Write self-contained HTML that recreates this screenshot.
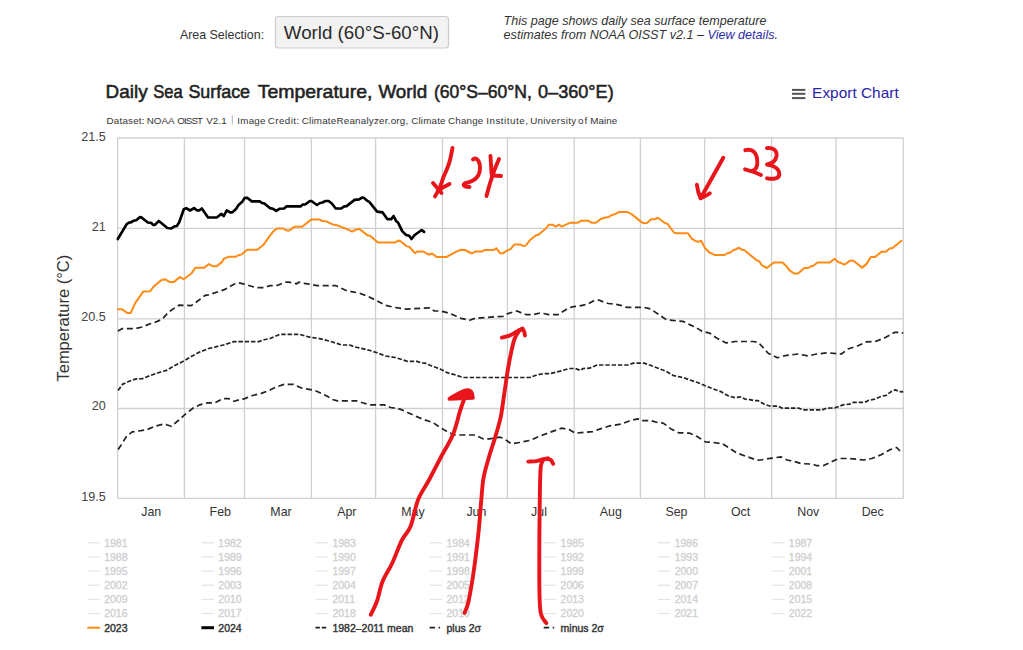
<!DOCTYPE html>
<html><head><meta charset="utf-8"><style>
html,body{margin:0;padding:0;background:#fff;}
body{width:1023px;height:650px;overflow:hidden;position:relative;font-family:"Liberation Sans", sans-serif;}
svg text{font-family:"Liberation Sans", sans-serif;}
</style></head><body>
<svg width="1023" height="650" viewBox="0 0 1023 650" style="position:absolute;left:0;top:0"><line x1="117.6" y1="138.0" x2="117.6" y2="498.4" stroke="#d0d0d0" stroke-width="1.3"/><line x1="184.4" y1="138.0" x2="184.4" y2="498.4" stroke="#d0d0d0" stroke-width="1.3"/><line x1="244.5" y1="138.0" x2="244.5" y2="498.4" stroke="#d0d0d0" stroke-width="1.3"/><line x1="311.4" y1="138.0" x2="311.4" y2="498.4" stroke="#d0d0d0" stroke-width="1.3"/><line x1="375.6" y1="138.0" x2="375.6" y2="498.4" stroke="#d0d0d0" stroke-width="1.3"/><line x1="442.5" y1="138.0" x2="442.5" y2="498.4" stroke="#d0d0d0" stroke-width="1.3"/><line x1="507.4" y1="138.0" x2="507.4" y2="498.4" stroke="#d0d0d0" stroke-width="1.3"/><line x1="574.2" y1="138.0" x2="574.2" y2="498.4" stroke="#d0d0d0" stroke-width="1.3"/><line x1="640.4" y1="138.0" x2="640.4" y2="498.4" stroke="#d0d0d0" stroke-width="1.3"/><line x1="704.6" y1="138.0" x2="704.6" y2="498.4" stroke="#d0d0d0" stroke-width="1.3"/><line x1="771.6" y1="138.0" x2="771.6" y2="498.4" stroke="#d0d0d0" stroke-width="1.3"/><line x1="836.0" y1="138.0" x2="836.0" y2="498.4" stroke="#d0d0d0" stroke-width="1.3"/><line x1="903.3" y1="138.0" x2="903.3" y2="498.4" stroke="#d0d0d0" stroke-width="1.3"/><line x1="117.6" y1="138.0" x2="903.3" y2="138.0" stroke="#d0d0d0" stroke-width="1.3"/><line x1="117.6" y1="228.4" x2="903.3" y2="228.4" stroke="#d0d0d0" stroke-width="1.3"/><line x1="117.6" y1="318.8" x2="903.3" y2="318.8" stroke="#d0d0d0" stroke-width="1.3"/><line x1="117.6" y1="408.5" x2="903.3" y2="408.5" stroke="#d0d0d0" stroke-width="1.3"/><line x1="117.6" y1="498.4" x2="903.3" y2="498.4" stroke="#d0d0d0" stroke-width="1.3"/><text x="105.7" y="140.6" text-anchor="end" font-size="12.6" fill="#444">21.5</text><text x="105.7" y="230.6" text-anchor="end" font-size="12.6" fill="#444">21</text><text x="105.7" y="320.8" text-anchor="end" font-size="12.6" fill="#444">20.5</text><text x="105.7" y="410.0" text-anchor="end" font-size="12.6" fill="#444">20</text><text x="105.7" y="501.4" text-anchor="end" font-size="12.6" fill="#444">19.5</text><text x="151.2" y="515.8" text-anchor="middle" font-size="12.4" fill="#333">Jan</text><text x="220.3" y="515.8" text-anchor="middle" font-size="12.4" fill="#333">Feb</text><text x="281.0" y="515.8" text-anchor="middle" font-size="12.4" fill="#333">Mar</text><text x="346.8" y="515.8" text-anchor="middle" font-size="12.4" fill="#333">Apr</text><text x="413.0" y="515.8" text-anchor="middle" font-size="12.4" fill="#333">May</text><text x="476.4" y="515.8" text-anchor="middle" font-size="12.4" fill="#333">Jun</text><text x="539.0" y="515.8" text-anchor="middle" font-size="12.4" fill="#333">Jul</text><text x="610.8" y="515.8" text-anchor="middle" font-size="12.4" fill="#333">Aug</text><text x="676.5" y="515.8" text-anchor="middle" font-size="12.4" fill="#333">Sep</text><text x="740.6" y="515.8" text-anchor="middle" font-size="12.4" fill="#333">Oct</text><text x="808.3" y="515.8" text-anchor="middle" font-size="12.4" fill="#333">Nov</text><text x="872.7" y="515.8" text-anchor="middle" font-size="12.4" fill="#333">Dec</text><text transform="translate(69,318.2) rotate(-90)" text-anchor="middle" font-size="16" fill="#333" textLength="126.7" lengthAdjust="spacingAndGlyphs">Temperature (°C)</text><path d="M118.1,449.4 L121.3,444.7 L126.7,436.1 L132.2,431.9 L138.5,431.0 L146.3,429.9 L154.9,426.3 L163.5,424.1 L166.6,424.7 L171.3,426.3 L180.7,418.5 L185.4,414.2 L193.2,408.0 L199.5,404.9 L207.3,402.8 L215.1,402.8 L222.9,398.6 L228.4,398.6 L233.9,401.3 L239.3,399.7 L244.8,398.6 L252.6,395.5 L262.0,393.1 L270.0,390.1 L276.3,386.9 L284.1,384.4 L293.5,384.4 L301.3,388.0 L313.8,390.1 L320.0,392.7 L327.3,396.3 L332.0,399.4 L337.5,400.9 L356.3,400.9 L362.5,402.8 L370.4,404.9 L384.4,404.9 L390.7,407.5 L400.1,409.1 L412.6,414.7 L422.0,418.9 L432.9,422.5 L439.2,426.8 L448.6,432.5 L454.8,435.0 L475.1,435.0 L483.0,438.8 L489.4,438.8 L500.3,437.2 L503.5,438.3 L511.3,443.8 L519.1,442.5 L530.0,440.4 L539.4,436.3 L548.8,432.8 L561.3,428.2 L569.1,429.4 L575.4,433.2 L592.6,431.6 L600.4,428.9 L609.8,425.8 L620.8,424.2 L630.1,420.6 L638.1,418.8 L641.3,420.6 L650.6,420.6 L658.5,422.7 L663.2,423.1 L671.0,428.9 L678.8,432.8 L689.7,433.2 L697.6,436.8 L705.4,441.9 L711.6,442.2 L722.6,443.8 L728.8,447.7 L736.7,452.9 L746.0,456.3 L757.0,460.2 L760.6,460.0 L771.6,458.2 L781.0,456.9 L787.2,460.0 L796.6,462.1 L801.3,463.6 L812.3,464.1 L816.9,465.7 L823.2,465.7 L832.6,461.3 L838.8,458.5 L849.8,458.5 L863.9,460.0 L871.7,458.5 L881.1,454.7 L890.5,449.5 L896.7,447.5 L900.6,451.6" fill="none" stroke="#222" stroke-width="1.7" stroke-dasharray="6 3.6" stroke-linejoin="round"/><path d="M118.1,390.4 L122.8,384.1 L129.1,381.3 L135.3,379.1 L142.4,378.6 L152.5,374.7 L161.9,371.6 L166.6,370.4 L174.4,365.7 L183.8,361.0 L191.6,356.3 L199.5,352.1 L208.8,348.5 L216.7,346.6 L224.5,344.7 L233.9,341.6 L258.9,341.6 L265.1,339.5 L270.0,338.5 L279.4,334.4 L299.7,334.4 L310.7,337.5 L316.9,338.0 L323.2,339.5 L329.4,341.1 L335.7,343.1 L341.9,345.0 L349.8,345.0 L354.5,346.9 L363.8,348.9 L370.1,350.5 L376.3,352.5 L385.7,356.0 L395.1,357.5 L402.9,359.9 L407.6,361.4 L417.0,361.4 L421.7,363.0 L425.0,363.1 L431.3,365.8 L439.9,368.9 L448.5,373.2 L454.7,374.7 L463.3,377.5 L529.8,377.5 L537.6,374.7 L543.9,373.6 L550.1,373.6 L556.4,372.1 L562.6,370.5 L568.9,368.5 L575.1,368.5 L580.6,370.5 L583.1,368.5 L589.4,368.2 L597.2,365.0 L628.5,365.0 L633.2,363.1 L644.1,363.1 L650.4,365.3 L659.8,368.9 L666.0,371.3 L673.8,375.7 L683.2,377.5 L689.5,379.9 L698.9,383.0 L705.1,385.7 L712.9,388.8 L720.8,391.6 L728.6,396.0 L734.8,397.6 L740.8,396.9 L745.0,399.1 L750.0,399.6 L754.1,400.7 L758.3,400.7 L764.9,404.6 L770.7,406.2 L778.2,406.2 L782.4,408.2 L799.0,408.2 L803.1,409.9 L822.2,409.9 L826.4,408.2 L834.7,407.9 L843.0,404.9 L849.7,404.1 L853.0,402.4 L864.6,402.4 L867.9,400.7 L874.6,399.1 L881.2,396.3 L886.2,395.3 L891.2,391.6 L895.4,389.9 L899.5,391.6 L903.2,391.9" fill="none" stroke="#222" stroke-width="1.7" stroke-dasharray="4.4 1.9" stroke-linejoin="round"/><path d="M117.9,331.1 L122.0,328.7 L134.9,328.7 L142.0,327.0 L150.2,323.8 L153.7,322.8 L160.7,319.9 L163.1,318.2 L169.0,311.7 L178.9,305.2 L191.2,305.6 L197.1,301.5 L205.3,295.3 L208.8,294.8 L218.2,291.7 L224.5,289.6 L233.9,284.2 L238.6,282.9 L243.2,283.8 L249.5,285.7 L255.8,287.6 L263.6,287.6 L269.8,285.7 L277.8,285.3 L284.9,282.2 L288.8,282.2 L296.6,283.8 L298.9,282.2 L304.4,283.3 L309.1,284.1 L316.9,285.6 L335.7,285.6 L339.6,287.5 L347.4,291.1 L351.3,291.6 L359.1,293.1 L368.5,296.6 L376.3,300.5 L385.0,305.2 L395.1,307.5 L406.1,309.1 L410.8,308.8 L429.7,307.8 L434.4,311.0 L440.6,311.0 L445.3,312.1 L450.0,313.6 L456.3,316.3 L461.0,318.3 L469.6,320.3 L475.0,318.3 L503.2,316.3 L507.9,313.6 L512.6,312.1 L517.3,311.0 L522.0,313.2 L526.7,314.7 L532.9,314.7 L540.7,312.8 L548.6,314.7 L557.9,314.7 L568.9,307.8 L573.6,306.6 L580.0,305.8 L587.8,304.2 L593.3,301.1 L598.8,300.0 L602.7,301.6 L608.2,303.5 L612.8,303.8 L620.7,305.3 L626.9,307.4 L644.1,307.4 L650.4,308.9 L659.8,315.2 L666.8,319.9 L683.2,321.4 L689.5,324.6 L695.0,326.9 L702.0,331.3 L709.8,333.2 L717.6,338.6 L726.2,342.9 L735.0,341.5 L753.3,341.5 L758.3,342.4 L768.2,353.2 L777.4,357.8 L784.9,355.7 L798.1,354.0 L808.1,356.0 L816.4,354.0 L828.1,352.8 L841.3,354.0 L848.0,349.0 L858.0,345.7 L866.3,341.9 L876.2,341.2 L884.6,337.9 L894.5,332.4 L898.7,332.4 L903.2,333.2" fill="none" stroke="#222" stroke-width="1.7" stroke-dasharray="6 3.6" stroke-linejoin="round"/><path d="M118.1,309.2 L122.0,309.2 L127.5,313.1 L130.6,313.1 L135.3,302.9 L143.2,291.6 L150.2,291.2 L153.3,287.0 L161.1,280.2 L165.0,279.2 L169.7,282.1 L173.6,282.1 L179.9,277.1 L183.8,279.2 L191.6,273.2 L195.5,267.7 L204.1,267.7 L208.8,264.1 L212.7,266.2 L216.7,266.2 L222.1,261.9 L223.7,258.8 L228.4,256.8 L235.4,256.8 L238.6,255.2 L241.7,254.4 L247.2,249.7 L257.3,249.7 L263.6,244.7 L269.1,236.9 L273.1,231.6 L277.0,228.5 L283.3,228.5 L286.4,230.4 L289.5,230.4 L294.2,226.8 L302.1,226.8 L311.4,219.4 L319.3,219.4 L322.4,221.0 L326.3,221.3 L332.6,224.4 L337.3,225.3 L341.9,227.2 L348.2,229.6 L352.1,231.6 L355.2,230.0 L359.1,228.8 L367.7,235.4 L370.1,235.8 L377.9,242.6 L395.1,242.6 L398.2,240.5 L400.6,241.3 L404.5,244.4 L406.3,246.1 L409.4,246.9 L414.9,253.2 L417.2,251.6 L423.5,251.6 L426.6,253.5 L429.7,254.7 L432.1,253.5 L436.8,257.1 L446.1,257.1 L450.8,254.7 L456.3,251.6 L461.0,249.7 L464.9,250.0 L471.9,253.5 L475.1,251.6 L482.1,251.6 L484.5,250.0 L493.8,250.0 L496.2,248.2 L500.1,253.2 L503.2,253.2 L507.9,250.0 L510.3,249.3 L514.2,244.6 L520.4,244.6 L523.6,246.1 L525.9,245.4 L529.8,240.3 L536.1,235.2 L538.4,234.7 L546.2,228.2 L548.6,224.7 L552.5,224.7 L555.6,226.6 L558.9,224.7 L562.0,226.6 L565.9,224.7 L569.9,222.8 L577.7,222.8 L580.8,220.8 L588.6,220.8 L591.8,222.8 L595.7,222.8 L600.4,219.2 L604.3,217.7 L609.0,216.9 L611.3,215.3 L615.2,214.1 L619.1,211.9 L626.9,211.9 L631.6,214.1 L641.8,222.4 L644.1,223.2 L647.3,222.8 L651.2,219.2 L655.1,219.2 L657.9,217.7 L664.5,222.8 L667.6,223.9 L673.9,232.5 L676.2,233.3 L688.0,233.3 L691.9,238.8 L695.0,240.7 L698.1,241.9 L701.2,240.7 L705.1,248.2 L709.7,252.8 L712.0,253.5 L714.4,255.0 L724.5,255.0 L727.7,253.2 L730.0,252.8 L733.9,249.7 L735.5,249.7 L738.6,247.7 L741.8,249.7 L744.1,250.0 L756.6,260.2 L759.0,261.0 L762.1,265.4 L766.8,268.0 L773.8,262.5 L782.4,262.5 L786.3,266.0 L789.5,270.4 L794.1,273.5 L798.1,273.5 L804.3,268.0 L808.2,268.0 L811.4,266.0 L812.9,266.0 L817.6,262.5 L829.8,262.5 L834.5,258.8 L838.5,262.2 L840.6,262.8 L843.8,264.4 L845.5,264.1 L849.8,260.7 L853.5,260.7 L862.1,267.6 L866.4,264.1 L870.8,257.1 L875.1,257.1 L881.5,251.8 L885.8,251.8 L890.1,248.2 L892.3,248.2 L901.4,240.7" fill="none" stroke="#ff8a14" stroke-width="2" stroke-linejoin="round" stroke-linecap="round"/><path d="M117.8,239.0 L126.7,224.1 L129.1,222.5 L130.6,222.5 L133.8,220.7 L136.1,220.2 L140.0,217.1 L141.6,217.4 L147.8,222.5 L151.0,222.8 L153.3,224.9 L154.9,224.9 L158.8,221.0 L167.4,228.0 L171.3,228.5 L174.4,226.4 L176.8,226.0 L179.1,222.5 L183.8,209.2 L186.2,208.1 L190.1,210.5 L194.0,208.1 L197.1,210.3 L199.5,210.3 L201.8,208.5 L208.1,217.5 L216.7,217.5 L221.4,213.9 L223.7,216.0 L226.8,210.3 L230.0,212.4 L232.3,212.4 L236.2,208.8 L238.6,204.9 L242.5,201.4 L244.8,197.8 L247.2,197.8 L251.8,201.4 L259.7,201.4 L262.0,203.0 L264.4,203.5 L269.8,208.1 L273.1,208.8 L276.3,210.8 L279.4,208.8 L284.1,208.5 L286.4,206.4 L300.5,206.4 L302.8,204.5 L305.2,204.5 L309.9,201.0 L311.4,201.0 L316.9,205.0 L320.0,203.0 L322.4,202.5 L325.5,201.0 L328.6,201.0 L331.8,203.5 L335.7,208.5 L341.2,208.5 L344.3,206.4 L346.6,206.1 L354.5,199.9 L359.1,199.4 L362.3,197.5 L363.8,197.8 L367.0,200.6 L369.3,201.9 L377.1,211.6 L382.6,212.4 L387.3,219.1 L391.2,219.1 L393.6,216.0 L395.9,220.7 L398.2,222.8 L402.2,231.1 L406.1,235.0 L409.2,235.8 L411.5,239.0 L414.7,235.0 L421.7,230.0 L424.1,231.9" fill="none" stroke="#000" stroke-width="2.65" stroke-linejoin="round" stroke-linecap="round"/><line x1="87.3" y1="542.8" x2="99.9" y2="542.8" stroke="#e4e4e4" stroke-width="1.2"/><text x="104.2" y="546.6" font-size="10.5" fill="#d0d0d0" stroke="#d0d0d0" stroke-width="0.35">1981</text><line x1="87.3" y1="556.9" x2="99.9" y2="556.9" stroke="#e4e4e4" stroke-width="1.2"/><text x="104.2" y="560.7" font-size="10.5" fill="#d0d0d0" stroke="#d0d0d0" stroke-width="0.35">1988</text><line x1="87.3" y1="571.1" x2="99.9" y2="571.1" stroke="#e4e4e4" stroke-width="1.2"/><text x="104.2" y="574.9" font-size="10.5" fill="#d0d0d0" stroke="#d0d0d0" stroke-width="0.35">1995</text><line x1="87.3" y1="585.2" x2="99.9" y2="585.2" stroke="#e4e4e4" stroke-width="1.2"/><text x="104.2" y="589.0" font-size="10.5" fill="#d0d0d0" stroke="#d0d0d0" stroke-width="0.35">2002</text><line x1="87.3" y1="599.4" x2="99.9" y2="599.4" stroke="#e4e4e4" stroke-width="1.2"/><text x="104.2" y="603.2" font-size="10.5" fill="#d0d0d0" stroke="#d0d0d0" stroke-width="0.35">2009</text><line x1="87.3" y1="613.5" x2="99.9" y2="613.5" stroke="#e4e4e4" stroke-width="1.2"/><text x="104.2" y="617.3" font-size="10.5" fill="#d0d0d0" stroke="#d0d0d0" stroke-width="0.35">2016</text><line x1="201.4" y1="542.8" x2="214.0" y2="542.8" stroke="#e4e4e4" stroke-width="1.2"/><text x="218.3" y="546.6" font-size="10.5" fill="#d0d0d0" stroke="#d0d0d0" stroke-width="0.35">1982</text><line x1="201.4" y1="556.9" x2="214.0" y2="556.9" stroke="#e4e4e4" stroke-width="1.2"/><text x="218.3" y="560.7" font-size="10.5" fill="#d0d0d0" stroke="#d0d0d0" stroke-width="0.35">1989</text><line x1="201.4" y1="571.1" x2="214.0" y2="571.1" stroke="#e4e4e4" stroke-width="1.2"/><text x="218.3" y="574.9" font-size="10.5" fill="#d0d0d0" stroke="#d0d0d0" stroke-width="0.35">1996</text><line x1="201.4" y1="585.2" x2="214.0" y2="585.2" stroke="#e4e4e4" stroke-width="1.2"/><text x="218.3" y="589.0" font-size="10.5" fill="#d0d0d0" stroke="#d0d0d0" stroke-width="0.35">2003</text><line x1="201.4" y1="599.4" x2="214.0" y2="599.4" stroke="#e4e4e4" stroke-width="1.2"/><text x="218.3" y="603.2" font-size="10.5" fill="#d0d0d0" stroke="#d0d0d0" stroke-width="0.35">2010</text><line x1="201.4" y1="613.5" x2="214.0" y2="613.5" stroke="#e4e4e4" stroke-width="1.2"/><text x="218.3" y="617.3" font-size="10.5" fill="#d0d0d0" stroke="#d0d0d0" stroke-width="0.35">2017</text><line x1="315.5" y1="542.8" x2="328.1" y2="542.8" stroke="#e4e4e4" stroke-width="1.2"/><text x="332.4" y="546.6" font-size="10.5" fill="#d0d0d0" stroke="#d0d0d0" stroke-width="0.35">1983</text><line x1="315.5" y1="556.9" x2="328.1" y2="556.9" stroke="#e4e4e4" stroke-width="1.2"/><text x="332.4" y="560.7" font-size="10.5" fill="#d0d0d0" stroke="#d0d0d0" stroke-width="0.35">1990</text><line x1="315.5" y1="571.1" x2="328.1" y2="571.1" stroke="#e4e4e4" stroke-width="1.2"/><text x="332.4" y="574.9" font-size="10.5" fill="#d0d0d0" stroke="#d0d0d0" stroke-width="0.35">1997</text><line x1="315.5" y1="585.2" x2="328.1" y2="585.2" stroke="#e4e4e4" stroke-width="1.2"/><text x="332.4" y="589.0" font-size="10.5" fill="#d0d0d0" stroke="#d0d0d0" stroke-width="0.35">2004</text><line x1="315.5" y1="599.4" x2="328.1" y2="599.4" stroke="#e4e4e4" stroke-width="1.2"/><text x="332.4" y="603.2" font-size="10.5" fill="#d0d0d0" stroke="#d0d0d0" stroke-width="0.35">2011</text><line x1="315.5" y1="613.5" x2="328.1" y2="613.5" stroke="#e4e4e4" stroke-width="1.2"/><text x="332.4" y="617.3" font-size="10.5" fill="#d0d0d0" stroke="#d0d0d0" stroke-width="0.35">2018</text><line x1="429.6" y1="542.8" x2="442.2" y2="542.8" stroke="#e4e4e4" stroke-width="1.2"/><text x="446.5" y="546.6" font-size="10.5" fill="#d0d0d0" stroke="#d0d0d0" stroke-width="0.35">1984</text><line x1="429.6" y1="556.9" x2="442.2" y2="556.9" stroke="#e4e4e4" stroke-width="1.2"/><text x="446.5" y="560.7" font-size="10.5" fill="#d0d0d0" stroke="#d0d0d0" stroke-width="0.35">1991</text><line x1="429.6" y1="571.1" x2="442.2" y2="571.1" stroke="#e4e4e4" stroke-width="1.2"/><text x="446.5" y="574.9" font-size="10.5" fill="#d0d0d0" stroke="#d0d0d0" stroke-width="0.35">1998</text><line x1="429.6" y1="585.2" x2="442.2" y2="585.2" stroke="#e4e4e4" stroke-width="1.2"/><text x="446.5" y="589.0" font-size="10.5" fill="#d0d0d0" stroke="#d0d0d0" stroke-width="0.35">2005</text><line x1="429.6" y1="599.4" x2="442.2" y2="599.4" stroke="#e4e4e4" stroke-width="1.2"/><text x="446.5" y="603.2" font-size="10.5" fill="#d0d0d0" stroke="#d0d0d0" stroke-width="0.35">2012</text><line x1="429.6" y1="613.5" x2="442.2" y2="613.5" stroke="#e4e4e4" stroke-width="1.2"/><text x="446.5" y="617.3" font-size="10.5" fill="#d0d0d0" stroke="#d0d0d0" stroke-width="0.35">2019</text><line x1="543.7" y1="542.8" x2="556.3" y2="542.8" stroke="#e4e4e4" stroke-width="1.2"/><text x="560.6" y="546.6" font-size="10.5" fill="#d0d0d0" stroke="#d0d0d0" stroke-width="0.35">1985</text><line x1="543.7" y1="556.9" x2="556.3" y2="556.9" stroke="#e4e4e4" stroke-width="1.2"/><text x="560.6" y="560.7" font-size="10.5" fill="#d0d0d0" stroke="#d0d0d0" stroke-width="0.35">1992</text><line x1="543.7" y1="571.1" x2="556.3" y2="571.1" stroke="#e4e4e4" stroke-width="1.2"/><text x="560.6" y="574.9" font-size="10.5" fill="#d0d0d0" stroke="#d0d0d0" stroke-width="0.35">1999</text><line x1="543.7" y1="585.2" x2="556.3" y2="585.2" stroke="#e4e4e4" stroke-width="1.2"/><text x="560.6" y="589.0" font-size="10.5" fill="#d0d0d0" stroke="#d0d0d0" stroke-width="0.35">2006</text><line x1="543.7" y1="599.4" x2="556.3" y2="599.4" stroke="#e4e4e4" stroke-width="1.2"/><text x="560.6" y="603.2" font-size="10.5" fill="#d0d0d0" stroke="#d0d0d0" stroke-width="0.35">2013</text><line x1="543.7" y1="613.5" x2="556.3" y2="613.5" stroke="#e4e4e4" stroke-width="1.2"/><text x="560.6" y="617.3" font-size="10.5" fill="#d0d0d0" stroke="#d0d0d0" stroke-width="0.35">2020</text><line x1="657.8" y1="542.8" x2="670.4" y2="542.8" stroke="#e4e4e4" stroke-width="1.2"/><text x="674.7" y="546.6" font-size="10.5" fill="#d0d0d0" stroke="#d0d0d0" stroke-width="0.35">1986</text><line x1="657.8" y1="556.9" x2="670.4" y2="556.9" stroke="#e4e4e4" stroke-width="1.2"/><text x="674.7" y="560.7" font-size="10.5" fill="#d0d0d0" stroke="#d0d0d0" stroke-width="0.35">1993</text><line x1="657.8" y1="571.1" x2="670.4" y2="571.1" stroke="#e4e4e4" stroke-width="1.2"/><text x="674.7" y="574.9" font-size="10.5" fill="#d0d0d0" stroke="#d0d0d0" stroke-width="0.35">2000</text><line x1="657.8" y1="585.2" x2="670.4" y2="585.2" stroke="#e4e4e4" stroke-width="1.2"/><text x="674.7" y="589.0" font-size="10.5" fill="#d0d0d0" stroke="#d0d0d0" stroke-width="0.35">2007</text><line x1="657.8" y1="599.4" x2="670.4" y2="599.4" stroke="#e4e4e4" stroke-width="1.2"/><text x="674.7" y="603.2" font-size="10.5" fill="#d0d0d0" stroke="#d0d0d0" stroke-width="0.35">2014</text><line x1="657.8" y1="613.5" x2="670.4" y2="613.5" stroke="#e4e4e4" stroke-width="1.2"/><text x="674.7" y="617.3" font-size="10.5" fill="#d0d0d0" stroke="#d0d0d0" stroke-width="0.35">2021</text><line x1="771.9" y1="542.8" x2="784.5" y2="542.8" stroke="#e4e4e4" stroke-width="1.2"/><text x="788.8" y="546.6" font-size="10.5" fill="#d0d0d0" stroke="#d0d0d0" stroke-width="0.35">1987</text><line x1="771.9" y1="556.9" x2="784.5" y2="556.9" stroke="#e4e4e4" stroke-width="1.2"/><text x="788.8" y="560.7" font-size="10.5" fill="#d0d0d0" stroke="#d0d0d0" stroke-width="0.35">1994</text><line x1="771.9" y1="571.1" x2="784.5" y2="571.1" stroke="#e4e4e4" stroke-width="1.2"/><text x="788.8" y="574.9" font-size="10.5" fill="#d0d0d0" stroke="#d0d0d0" stroke-width="0.35">2001</text><line x1="771.9" y1="585.2" x2="784.5" y2="585.2" stroke="#e4e4e4" stroke-width="1.2"/><text x="788.8" y="589.0" font-size="10.5" fill="#d0d0d0" stroke="#d0d0d0" stroke-width="0.35">2008</text><line x1="771.9" y1="599.4" x2="784.5" y2="599.4" stroke="#e4e4e4" stroke-width="1.2"/><text x="788.8" y="603.2" font-size="10.5" fill="#d0d0d0" stroke="#d0d0d0" stroke-width="0.35">2015</text><line x1="771.9" y1="613.5" x2="784.5" y2="613.5" stroke="#e4e4e4" stroke-width="1.2"/><text x="788.8" y="617.3" font-size="10.5" fill="#d0d0d0" stroke="#d0d0d0" stroke-width="0.35">2022</text><line x1="87.3" y1="627.7" x2="99.9" y2="627.7" stroke="#ff8a14" stroke-width="2"/><text x="104.2" y="631.5" font-size="10.5" fill="#333" stroke="#333" stroke-width="0.4">2023</text><line x1="201.4" y1="627.7" x2="214.0" y2="627.7" stroke="#000" stroke-width="3"/><text x="218.3" y="631.5" font-size="10.5" fill="#333" stroke="#333" stroke-width="0.4">2024</text><line x1="315.5" y1="627.7" x2="328.1" y2="627.7" stroke="#222" stroke-width="1.7" stroke-dasharray="4.4 1.9"/><text x="332.4" y="631.5" font-size="10.5" fill="#333" stroke="#333" stroke-width="0.4">1982–2011 mean</text><line x1="429.6" y1="627.7" x2="442.2" y2="627.7" stroke="#222" stroke-width="1.7" stroke-dasharray="5.5 3.5 1.5 3"/><text x="446.5" y="631.5" font-size="10.5" fill="#333" stroke="#333" stroke-width="0.4">plus 2σ</text><line x1="543.7" y1="627.7" x2="556.3" y2="627.7" stroke="#222" stroke-width="1.7" stroke-dasharray="5.5 3.5 1.5 3"/><text x="560.6" y="631.5" font-size="10.5" fill="#333" stroke="#333" stroke-width="0.4">minus 2σ</text><path d="M449.5,398.8 C454,396 460,392 466,390.3 C470.5,389.5 472.5,392 472.8,397.8 Z" fill="#e8151b" stroke="#e8151b" stroke-width="3.9" stroke-linejoin="round"/><path d="M452.5,148.0 C452.1,150.0 450.9,156.5 450.0,160.0 C449.1,163.5 448.1,166.2 447.0,169.0 C445.9,171.8 444.7,174.0 443.5,177.0 C442.3,180.0 441.4,183.8 440.0,187.0 C438.6,190.2 435.8,194.9 435.0,196.5" fill="none" stroke="#e8151b" stroke-width="3.9" stroke-linecap="round" stroke-linejoin="round"/><path d="M433,183 L441.5,193" fill="none" stroke="#e8151b" stroke-width="3.9" stroke-linecap="round" stroke-linejoin="round"/><path d="M449.5,184 L440,189" fill="none" stroke="#e8151b" stroke-width="3.9" stroke-linecap="round" stroke-linejoin="round"/><path d="M473,159.5 C476,157 480,160 480,168 C480,176 475,181 466,183 C462,184 463,187 469.5,187" fill="none" stroke="#e8151b" stroke-width="3.9" stroke-linecap="round" stroke-linejoin="round"/><path d="M490.5,156 L491.5,173.5" fill="none" stroke="#e8151b" stroke-width="3.9" stroke-linecap="round" stroke-linejoin="round"/><path d="M499,159 C494,170 490,182 486.5,196" fill="none" stroke="#e8151b" stroke-width="3.9" stroke-linecap="round" stroke-linejoin="round"/><path d="M492,175.5 L501,176" fill="none" stroke="#e8151b" stroke-width="3.9" stroke-linecap="round" stroke-linejoin="round"/><path d="M723.3,157.8 L700.6,198.2" fill="none" stroke="#e8151b" stroke-width="3.9" stroke-linecap="round" stroke-linejoin="round"/><path d="M696.9,184.7 C697.5,190 699,195 700.6,198.2 C704,197 707,195 709.8,193.3" fill="none" stroke="#e8151b" stroke-width="3.9" stroke-linecap="round" stroke-linejoin="round"/><path d="M745.3,150.2 C752,148.5 756.5,152 757.2,160 C757.8,166 756,170 752,171" fill="none" stroke="#e8151b" stroke-width="3.9" stroke-linecap="round" stroke-linejoin="round"/><path d="M745,169.3 C750,170.5 756,172.5 761,175" fill="none" stroke="#e8151b" stroke-width="3.9" stroke-linecap="round" stroke-linejoin="round"/><path d="M766.9,148.1 C773,147.5 777,150 776.6,155.5 C776,161 772,163.5 767,164.5 C774,165.5 779.5,169 779.3,174.5 C779,178.5 774,179.5 767,178.3" fill="none" stroke="#e8151b" stroke-width="3.9" stroke-linecap="round" stroke-linejoin="round"/><path d="M370.8,614.7 C371.8,612.4 375.0,606.6 377.0,601.0 C379.0,595.4 380.1,587.6 382.6,581.3 C385.2,575.0 389.1,569.9 392.3,563.0 C395.5,556.1 398.9,546.1 402.0,540.0 C405.1,533.9 407.9,533.1 410.6,526.3 C413.3,519.5 415.1,507.1 418.2,499.4 C421.3,491.7 425.4,486.8 429.0,480.0 C432.6,473.2 436.0,466.4 440.0,458.8 C444.0,451.2 449.8,442.1 453.1,434.2 C456.4,426.3 457.9,417.9 460.0,411.2 C462.1,404.5 465.0,396.9 466.0,394.0" fill="none" stroke="#e8151b" stroke-width="3.9" stroke-linecap="round" stroke-linejoin="round"/><path d="M464.5,612.9 C465.1,611.3 466.9,608.1 468.1,603.3 C469.3,598.5 470.5,591.4 471.7,584.3 C472.9,577.2 474.0,569.6 475.2,560.5 C476.4,551.4 477.8,539.4 478.8,529.5 C479.8,519.6 480.4,509.6 481.2,501.0 C482.0,492.4 482.2,485.4 483.5,478.0 C484.8,470.6 487.3,463.0 489.2,456.3 C491.1,449.6 493.1,444.4 495.0,437.9 C496.9,431.4 499.2,424.5 500.7,417.2 C502.2,409.9 503.0,401.8 504.2,394.1 C505.4,386.4 506.5,378.0 507.6,371.1 C508.8,364.2 509.9,358.0 511.1,352.6 C512.3,347.2 513.2,342.4 514.6,338.8 C516.0,335.2 517.9,332.5 519.2,330.8 C520.5,329.1 522.0,328.9 522.6,328.5" fill="none" stroke="#e8151b" stroke-width="3.9" stroke-linecap="round" stroke-linejoin="round"/><path d="M501.9,337.7 C503.2,337.3 507.6,336.3 510.0,335.4 C512.4,334.4 514.3,333.0 516.0,332.0 C517.7,331.0 519.0,329.8 520.3,329.6 C521.6,329.4 523.0,329.8 523.8,330.8 C524.6,331.8 524.7,334.6 524.9,335.4" fill="none" stroke="#e8151b" stroke-width="3.9" stroke-linecap="round" stroke-linejoin="round"/><path d="M546.3,623.1 C545.4,621.5 541.9,619.2 540.8,613.4 C539.6,607.6 539.6,601.9 539.4,588.5 C539.2,575.1 539.3,549.2 539.4,533.1 C539.5,517.0 539.7,502.7 539.9,491.6 C540.1,480.5 540.2,471.9 540.8,466.6 C541.4,461.3 542.4,461.1 543.5,459.7 C544.6,458.3 547.0,458.5 547.7,458.3" fill="none" stroke="#e8151b" stroke-width="3.9" stroke-linecap="round" stroke-linejoin="round"/><path d="M528.3,461.6 C529.7,461.5 533.8,461.6 536.6,461.1 C539.4,460.7 542.6,459.1 544.9,458.9 C547.2,458.7 549.1,458.9 550.5,459.7 C551.9,460.5 552.8,463.2 553.2,463.9" fill="none" stroke="#e8151b" stroke-width="3.9" stroke-linecap="round" stroke-linejoin="round"/><text x="105.6" y="98.4" font-size="18.6" fill="#222" stroke="#222" stroke-width="0.55" textLength="42.0" lengthAdjust="spacingAndGlyphs">Daily</text><text x="153.3" y="98.4" font-size="18.6" fill="#222" stroke="#222" stroke-width="0.55" textLength="29.5" lengthAdjust="spacingAndGlyphs">Sea</text><text x="188.4" y="98.4" font-size="18.6" fill="#222" stroke="#222" stroke-width="0.55" textLength="61.7" lengthAdjust="spacingAndGlyphs">Surface</text><text x="257.7" y="98.4" font-size="18.6" fill="#222" stroke="#222" stroke-width="0.55" textLength="114.7" lengthAdjust="spacingAndGlyphs">Temperature,</text><text x="378.4" y="98.4" font-size="18.6" fill="#222" stroke="#222" stroke-width="0.55" textLength="48.7" lengthAdjust="spacingAndGlyphs">World</text><text x="433.9" y="98.4" font-size="18.6" fill="#222" stroke="#222" stroke-width="0.55" textLength="98.0" lengthAdjust="spacingAndGlyphs">(60°S–60°N,</text><text x="538.0" y="98.4" font-size="18.6" fill="#222" stroke="#222" stroke-width="0.55" textLength="75.7" lengthAdjust="spacingAndGlyphs">0–360°E)</text><text x="106.5" y="123.6" font-size="9.8" fill="#333" textLength="38.0" lengthAdjust="spacing">Dataset:</text><text x="146.7" y="123.6" font-size="9.8" fill="#333" textLength="27.8" lengthAdjust="spacing">NOAA</text><text x="177.2" y="123.6" font-size="9.8" fill="#333" textLength="25.9" lengthAdjust="spacing">OISST</text><text x="206.2" y="123.6" font-size="9.8" fill="#333" textLength="20.4" lengthAdjust="spacing">V2.1</text><text x="237.3" y="123.6" font-size="9.8" fill="#333" textLength="28.2" lengthAdjust="spacing">Image</text><text x="267.8" y="123.6" font-size="9.8" fill="#333" textLength="31.4" lengthAdjust="spacing">Credit:</text><text x="301.7" y="123.6" font-size="9.8" fill="#333" textLength="106.5" lengthAdjust="spacing">ClimateReanalyzer.org,</text><text x="411.2" y="123.6" font-size="9.8" fill="#333" textLength="34.3" lengthAdjust="spacing">Climate</text><text x="448.1" y="123.6" font-size="9.8" fill="#333" textLength="35.2" lengthAdjust="spacing">Change</text><text x="486.2" y="123.6" font-size="9.8" fill="#333" textLength="41.7" lengthAdjust="spacing">Institute,</text><text x="530.2" y="123.6" font-size="9.8" fill="#333" textLength="45.9" lengthAdjust="spacing">University</text><text x="578.1" y="123.6" font-size="9.8" fill="#333" textLength="9.2" lengthAdjust="spacing">of</text><text x="590.2" y="123.6" font-size="9.8" fill="#333" textLength="27.0" lengthAdjust="spacing">Maine</text><line x1="232.3" y1="115.5" x2="232.3" y2="124.5" stroke="#aaa" stroke-width="0.9"/><line x1="792" y1="89.9" x2="805.4" y2="89.9" stroke="#555" stroke-width="2"/><line x1="792" y1="93.8" x2="805.4" y2="93.8" stroke="#555" stroke-width="2"/><line x1="792" y1="98.1" x2="805.4" y2="98.1" stroke="#555" stroke-width="2"/><text x="812.1" y="98.3" font-size="14.8" fill="#2c22a8" textLength="86.6" lengthAdjust="spacingAndGlyphs">Export Chart</text><text x="179.9" y="39.3" font-size="12.9" fill="#333" textLength="84.2" lengthAdjust="spacingAndGlyphs">Area Selection:</text><rect x="275.5" y="16.5" width="173" height="31.5" rx="3" ry="3" fill="#f2f2f2" stroke="#cdcdcd" stroke-width="1.2"/><text x="283.8" y="39.1" font-size="18.3" fill="#2a2a2a" textLength="155.2" lengthAdjust="spacingAndGlyphs">World (60°S-60°N)</text><text x="503.6" y="24.8" font-size="12.6" font-style="italic" fill="#333" textLength="262.8" lengthAdjust="spacingAndGlyphs">This page shows daily sea surface temperature</text><text x="503.6" y="39" font-size="12.6" font-style="italic" fill="#333">estimates from NOAA OISST v2.1 – <tspan fill="#2c2ca6">View details</tspan>.</text></svg>
</body></html>
